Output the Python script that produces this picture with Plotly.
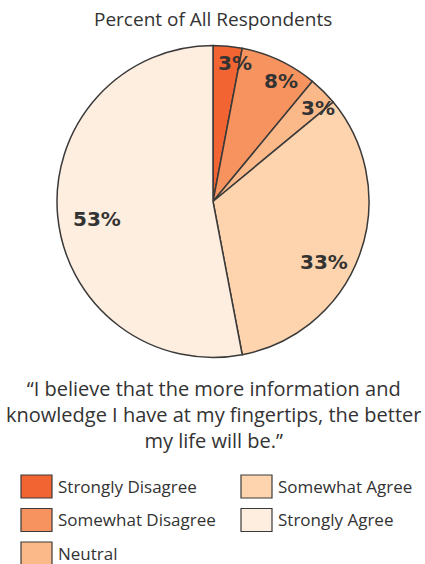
import math
import plotly.graph_objects as go

categories = ["Strongly Disagree", "Somewhat Disagree", "Neutral", "Somewhat Agree", "Strongly Agree"]
values = [3, 8, 3, 33, 53]
colors = ["#F26532", "#F7935F", "#FBB889", "#FDD4AD", "#FEEEDF"]
title_text = "Percent of All Respondents"
quote_text = ("\u201cI believe that the more information and<br>"
              "knowledge I have at my fingertips, the better<br>"
              "my life will be.\u201d")

W, H = 425, 564
CX, CY, R = 213, 201.5, 156  # pie centre and radius in pixels

def px(x):
    return x / W

def py(y):
    return 1 - y / H

TXT = "#333333"
FONT = "Open Sans"

fig = go.Figure(go.Pie(
    labels=categories, values=values, sort=False, direction="clockwise", rotation=0,
    marker=dict(colors=colors, line=dict(color="#3a3a3a", width=1.5)),
    textinfo="none", hoverinfo="label+percent", showlegend=False,
    domain=dict(x=[px(CX - R), px(CX + R)], y=[py(CY + R), py(CY - R)]),
))

annotations = []
total = sum(values)
cum = 0
for v in values:
    share = v / total
    off_deg = 3 + 18 * share if share < 0.5 else -3
    mid = (cum + v / 2) / total * 2 * math.pi + math.radians(off_deg)
    cum += v
    rf = 0.91 - 0.3 * share
    lx = CX + rf * R * math.sin(mid)
    ly = CY - rf * R * math.cos(mid)
    annotations.append(dict(x=px(lx), y=py(ly), xref="paper", yref="paper", showarrow=False,
                            xanchor="center", yanchor="middle",
                            text=f"<b>{v}%</b>", font=dict(family="DejaVu Sans", size=20, color=TXT)))

annotations.append(dict(x=px(CX), y=py(19), xref="paper", yref="paper", showarrow=False,
                        xanchor="center", yanchor="middle",
                        text=title_text, font=dict(family=FONT, size=19, color=TXT)))
annotations.append(dict(x=px(CX), y=py(414), xref="paper", yref="paper", showarrow=False,
                        xanchor="center", yanchor="middle",
                        text=quote_text, align="center",
                        font=dict(family=FONT, size=20, color=TXT)))

shapes = []
for i, (cat, col) in enumerate(zip(categories, colors)):
    c, r = (0, i) if i < 3 else (1, i - 3)
    x0 = 21 + c * 220
    y0 = 475 + r * 33.5
    shapes.append(dict(type="rect", xref="paper", yref="paper",
                       x0=px(x0), x1=px(x0 + 31), y0=py(y0 + 23), y1=py(y0),
                       fillcolor=col, line=dict(color="#3a3a3a", width=1.2)))
    annotations.append(dict(x=px(x0 + 35), y=py(y0 + 11), xref="paper", yref="paper",
                            xanchor="left", yanchor="middle", showarrow=False, text=cat,
                            font=dict(family=FONT, size=17, color=TXT)))

fig.update_layout(width=W, height=H, margin=dict(l=0, r=0, t=0, b=0),
                  paper_bgcolor="white", plot_bgcolor="white",
                  annotations=annotations, shapes=shapes)
fig.write_html("out.html", config={"displayModeBar": False},
               post_script="document.body.style.margin='0';")
